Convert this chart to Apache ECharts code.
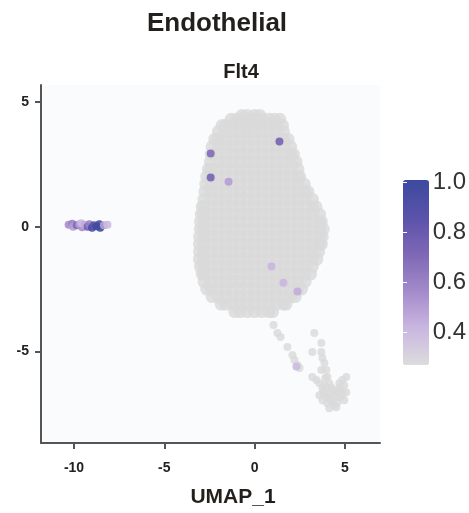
<!DOCTYPE html>
<html>
<head>
<meta charset="utf-8">
<script src="https://cdn.jsdelivr.net/npm/echarts@6/dist/echarts.min.js"></script>
<style>html,body{margin:0;padding:0;background:#fff}#c{width:469px;height:513px}</style>
</head>
<body>
<div id="c"></div>
<script>
// ---- data ----
const xTicks = [-10, -5, 0, 5];
const yTicks = [-5, 0, 5];
const legendTicks = [0.4, 0.6, 0.8, 1.0];
const exprMin = 0.27, exprMax = 1.01;

// main cluster of non-expressing cells, row by row: [UMAP_2, [UMAP_1 values]]
const blobRows = [
  [4.45, [-0.7,-0.4,0,0.3]],
  [4.3, [-1.3,-1.0,-0.7,-0.4,0,0.4,0.8,1.1,1.4]],
  [4.05, [-1.8,-1.6,-1.2,-0.8,-0.4,0,0.4,0.8,1.2,1.55]],
  [3.8, [-2.0,-1.6,-1.2,-0.8,-0.4,0,0.4,0.8,1.2,1.6]],
  [3.5, [-2.2,-2.0,-1.6,-1.2,-0.8,-0.4,0,0.4,0.8,1.2,1.6,1.85]],
  [3.2, [-2.35,-2.0,-1.6,-1.2,-0.8,-0.4,0,0.4,0.8,1.2,1.6,2.0]],
  [2.9, [-2.4,-2.0,-1.6,-1.2,-0.8,-0.4,0,0.4,0.8,1.2,1.6,2.0,2.15]],
  [2.6, [-2.45,-2.0,-1.6,-1.2,-0.8,-0.4,0,0.4,0.8,1.2,1.6,2.0,2.3]],
  [2.3, [-2.55,-2.4,-2.0,-1.6,-1.2,-0.8,-0.4,0,0.4,0.8,1.2,1.6,2.0,2.4]],
  [2.0, [-2.65,-2.4,-2.0,-1.6,-1.2,-0.8,-0.4,0,0.4,0.8,1.2,1.6,2.0,2.4,2.5]],
  [1.7, [-2.7,-2.4,-2.0,-1.6,-1.2,-0.8,-0.4,0,0.4,0.8,1.2,1.6,2.0,2.4,2.75]],
  [1.4, [-2.75,-2.4,-2.0,-1.6,-1.2,-0.8,-0.4,0,0.4,0.8,1.2,1.6,2.0,2.4,2.8,2.95]],
  [1.1, [-2.8,-2.4,-2.0,-1.6,-1.2,-0.8,-0.4,0,0.4,0.8,1.2,1.6,2.0,2.4,2.8,3.2]],
  [0.8, [-2.9,-2.8,-2.4,-2.0,-1.6,-1.2,-0.8,-0.4,0,0.4,0.8,1.2,1.6,2.0,2.4,2.8,3.2,3.4]],
  [0.5, [-2.95,-2.8,-2.4,-2.0,-1.6,-1.2,-0.8,-0.4,0,0.4,0.8,1.2,1.6,2.0,2.4,2.8,3.2,3.6]],
  [0.2, [-3.0,-2.8,-2.4,-2.0,-1.6,-1.2,-0.8,-0.4,0,0.4,0.8,1.2,1.6,2.0,2.4,2.8,3.2,3.6,3.7]],
  [-0.1, [-3.0,-2.8,-2.4,-2.0,-1.6,-1.2,-0.8,-0.4,0,0.4,0.8,1.2,1.6,2.0,2.4,2.8,3.2,3.6,3.8]],
  [-0.4, [-3.05,-2.8,-2.4,-2.0,-1.6,-1.2,-0.8,-0.4,0,0.4,0.8,1.2,1.6,2.0,2.4,2.8,3.2,3.6,3.75]],
  [-0.7, [-3.05,-2.8,-2.4,-2.0,-1.6,-1.2,-0.8,-0.4,0,0.4,0.8,1.2,1.6,2.0,2.4,2.8,3.2,3.6,3.7]],
  [-1.0, [-3.05,-2.8,-2.4,-2.0,-1.6,-1.2,-0.8,-0.4,0,0.4,0.8,1.2,1.6,2.0,2.4,2.8,3.2,3.55]],
  [-1.3, [-3.05,-2.8,-2.4,-2.0,-1.6,-1.2,-0.8,-0.4,0,0.4,0.8,1.2,1.6,2.0,2.4,2.8,3.2,3.45]],
  [-1.6, [-3.0,-2.8,-2.4,-2.0,-1.6,-1.2,-0.8,-0.4,0,0.4,0.8,1.2,1.6,2.0,2.4,2.8,3.2]],
  [-1.9, [-2.9,-2.8,-2.4,-2.0,-1.6,-1.2,-0.8,-0.4,0,0.4,0.8,1.2,1.6,2.0,2.4,2.8,3.1]],
  [-2.2, [-2.8,-2.4,-2.0,-1.6,-1.2,-0.8,-0.4,0,0.4,0.8,1.2,1.6,2.0,2.4,2.8]],
  [-2.5, [-2.65,-2.4,-2.0,-1.6,-1.2,-0.8,-0.4,0,0.4,0.8,1.2,1.6,2.0,2.4,2.6]],
  [-2.8, [-2.35,-2.0,-1.6,-1.2,-0.8,-0.4,0,0.4,0.8,1.2,1.6,2.0,2.25]],
  [-3.1, [-1.85,-1.6,-1.2,-0.8,-0.4,0,0.4,0.8,1.2,1.6,1.75]],
  [-3.4, [-1.1,-0.8,-0.4,0,0.4,0.8,1.0]]
];

// tail of non-expressing cells below the main cluster: [UMAP_1, UMAP_2]
const tailCells = [
  [1.05,-3.94],[1.27,-4.26],[1.44,-4.42],[1.82,-4.82],[2.10,-5.14],[2.21,-5.34],[2.38,-5.54],[2.49,-5.66],
  [3.31,-4.26],[3.70,-4.66],[3.20,-5.02],[3.70,-5.02],[3.76,-5.26],[3.87,-5.46],[3.70,-5.74],[3.98,-5.74],
  [4.03,-6.02],[3.20,-6.02],[3.43,-6.14],[3.59,-6.27],[3.76,-6.47],[3.98,-6.67],[4.14,-6.83],[4.31,-7.03],
  [4.53,-7.23],[4.14,-7.27],[3.76,-6.95],[3.59,-6.75],[4.70,-6.83],[5.08,-6.63],[4.86,-6.14],[5.08,-6.02],
  [4.70,-6.27],[4.42,-6.55],[4.25,-6.43],[4.59,-7.03],[4.97,-6.95],[3.87,-6.75],[3.87,-6.35],[4.14,-6.27],
  [4.42,-6.83],[4.03,-7.07],[4.81,-6.55],[4.97,-6.35],[3.92,-6.06],[4.25,-6.95],[4.59,-6.63],
  [3.98,-6.45],[4.30,-6.70],[4.70,-6.45],[4.40,-7.15],[3.80,-6.60],[4.05,-6.85],[4.85,-6.75]
];

// Flt4-expressing cells: [UMAP_1, UMAP_2, expression]
const exprCells = [
  [-10.3,0.08,0.55],[-10.1,0.12,0.6],[-10.05,0.0,0.5],[-9.85,0.06,0.7],[-9.7,0.1,0.5],
  [-9.55,-0.02,0.55],[-9.6,0.14,0.4],[-9.4,0.08,0.45],[-9.25,0.0,0.75],[-9.15,0.1,0.6],
  [-9.0,-0.04,0.95],[-8.9,0.06,0.85],[-8.75,0.02,1.0],[-8.6,0.1,0.95],[-8.55,-0.04,1.0],
  [-8.35,0.06,0.5],[-8.15,0.08,0.4],
  [-2.43,2.93,0.7],[-2.43,1.97,0.75],[-1.44,1.8,0.5],[1.38,3.41,0.75],
  [0.94,-1.6,0.42],[1.6,-2.25,0.42],[2.38,-2.6,0.45],[2.32,-5.6,0.4]
];

const blobCells = [];
blobRows.forEach(r => r[1].forEach(x => blobCells.push([x, r[0]])));

const FONT = '"Liberation Sans", Arial, Helvetica, sans-serif';
const axisColor = '#555555';
const labelColor = '#222222';

const chart = echarts.init(document.getElementById('c'), null, {renderer: 'canvas'});
chart.setOption({
  animation: false,
  backgroundColor: '#ffffff',
  grid: [
    {left: 41, top: 85, width: 339, height: 358, show: true, backgroundColor: '#fafbfd', borderWidth: 0},
    {left: 403, top: 180, width: 26, height: 185, show: false}
  ],
  xAxis: [
    {
      type: 'value', gridIndex: 0, min: -11.83, max: 6.95,
      splitLine: {show: false},
      axisLine: {show: true, onZero: false, lineStyle: {color: axisColor, width: 2}},
      axisTick: {show: true, customValues: xTicks, length: 6, lineStyle: {color: axisColor, width: 2}},
      axisLabel: {customValues: xTicks, margin: 18, fontFamily: FONT, fontWeight: 'bold', fontSize: 14, color: labelColor}
    },
    {type: 'value', gridIndex: 1, min: 0, max: 1, show: false}
  ],
  yAxis: [
    {
      type: 'value', gridIndex: 0, min: -8.66, max: 5.67,
      splitLine: {show: false},
      axisLine: {show: true, onZero: false, lineStyle: {color: axisColor, width: 2}},
      axisTick: {show: true, customValues: yTicks, length: 6, lineStyle: {color: axisColor, width: 2}},
      axisLabel: {customValues: yTicks, margin: 12, fontFamily: FONT, fontWeight: 'bold', fontSize: 14, color: labelColor}
    },
    {
      type: 'value', gridIndex: 1, min: exprMin, max: exprMax, position: 'right', z: 10,
      splitLine: {show: false}, axisLine: {show: false},
      axisTick: {show: true, inside: true, customValues: legendTicks, length: 4, lineStyle: {color: '#ffffff', width: 1}},
      axisLabel: {customValues: legendTicks, margin: 10, fontFamily: FONT, fontSize: 24, color: '#333333',
                  formatter: v => v.toFixed(1)}
    },
    {
      type: 'value', gridIndex: 1, min: exprMin, max: exprMax, position: 'left', z: 10,
      splitLine: {show: false}, axisLine: {show: false}, axisLabel: {show: false},
      axisTick: {show: true, inside: true, customValues: legendTicks, length: 4, lineStyle: {color: '#ffffff', width: 1}}
    }
  ],
  visualMap: {
    type: 'continuous', min: exprMin, max: exprMax, dimension: 2, seriesIndex: [2],
    left: 403, top: 180, itemWidth: 26, itemHeight: 185, padding: 0,
    calculable: false, text: null, hoverLink: false,
    inRange: {color: ['#dcdcdc', '#c9b6e0', '#a48aca', '#7e67b6', '#5b52aa', '#3b4a9f']}
  },
  series: [
    {type: 'scatter', xAxisIndex: 0, yAxisIndex: 0, data: blobCells, symbolSize: 13, silent: true,
     itemStyle: {color: '#d9d9d9'}},
    {type: 'scatter', xAxisIndex: 0, yAxisIndex: 0, data: tailCells, symbolSize: 8, silent: true,
     itemStyle: {color: '#d9d9d9'}},
    {type: 'scatter', xAxisIndex: 0, yAxisIndex: 0, data: exprCells, symbolSize: 8, silent: true,
     itemStyle: {opacity: 0.9}}
  ],
  graphic: [
    {type: 'text', x: 217, y: 24, style: {text: 'Endothelial', font: 'bold 26px ' + FONT, fill: '#231f1c', textAlign: 'center', textVerticalAlign: 'middle'}},
    {type: 'text', x: 241, y: 72, style: {text: 'Flt4', font: 'bold 20px ' + FONT, fill: '#231f1c', textAlign: 'center', textVerticalAlign: 'middle'}},
    {type: 'text', x: 233, y: 497, style: {text: 'UMAP_1', font: 'bold 21px ' + FONT, fill: '#231f1c', textAlign: 'center', textVerticalAlign: 'middle'}}
  ]
});
</script>
</body>
</html>
